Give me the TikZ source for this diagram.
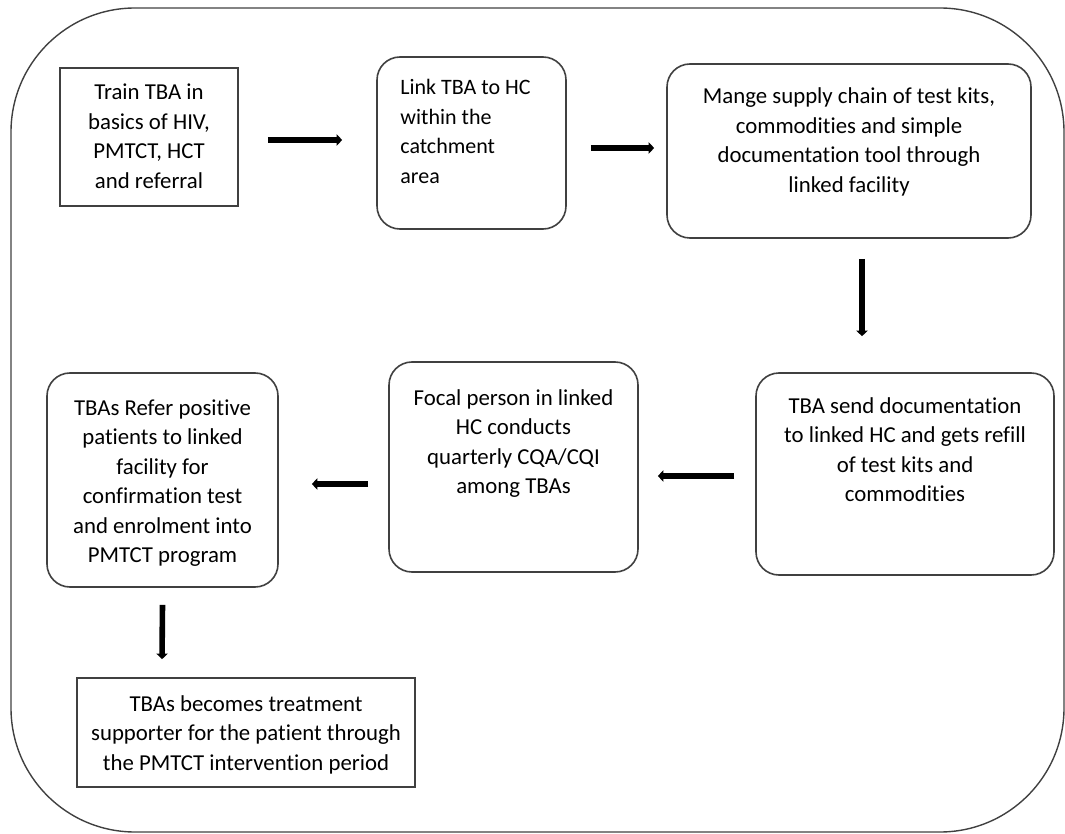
\documentclass[tikz,border=0pt]{standalone}
\usepackage{fontspec}
\setmainfont{Carlito}[Ligatures=NoCommon]
\usepackage{tikz}
\usetikzlibrary{arrows.meta, calc}
\definecolor{FrameGrey}{HTML}{404040}
\tikzset{
  % Box styles
  framebox/.style={draw=FrameGrey, line width=0.7pt, rounded corners=62pt},
  squarebox/.style={rectangle, draw=FrameGrey, line width=0.8pt, inner sep=0pt},
  roundbox/.style={rectangle, rounded corners=11.5pt, draw=FrameGrey, line width=0.8pt, inner sep=0pt},
  % Text styles (placed on the baseline of the last line)
  boxtext/.style={anchor=base, align=center, inner sep=0pt, font=\fontsize{11.4}{14.75}\selectfont},
  % Arrow styles
  arrow/.style={-{Triangle[length=2.8pt, width=5.6pt]}, line width=2.8pt, black}
}

\begin{document}
\begin{tikzpicture}[x=0.5pt, y=-0.5pt]
  \useasboundingbox (0,0) rectangle (1065,834);

  % Outer frame
  \draw[framebox] (11,8) rectangle (1064,832);

  % Boxes
  \node[squarebox, minimum width=89pt, minimum height=69pt] (train) at (149,137) {};
  \node[roundbox, minimum width=94.5pt, minimum height=86pt] (link) at (471.5,143) {};
  \node[roundbox, minimum width=182pt, minimum height=87pt] (supply) at (849,151) {};
  \node[roundbox, minimum width=149pt, minimum height=101pt] (refill) at (905,474) {};
  \node[roundbox, minimum width=124.5pt, minimum height=105pt] (focal) at (513.5,467) {};
  \node[roundbox, minimum width=115.5pt, minimum height=107pt] (refer) at (162.5,480) {};
  \node[squarebox, minimum width=169pt, minimum height=54.5pt] (support) at (246,732.5) {};

  % Box texts
  \node[boxtext] (traintxt) at (149,188.5) {Train TBA in\\basics of HIV,\\PMTCT, HCT\\and referral};
  \node[boxtext, anchor=base west, align=left, font=\fontsize{11}{14.75}\selectfont] (linktxt) at (400,183.5) {Link TBA to HC\\within the\\catchment\\area};
  \node[boxtext] (supplytxt) at (849,192.5) {Mange supply chain of test kits,\\commodities and simple\\documentation tool through\\linked facility};
  \node[boxtext] (refilltxt) at (905,501.5) {TBA send documentation\\to linked HC and gets refill\\of test kits and\\commodities};
  \node[boxtext] (focaltxt) at (513.5,493.5) {Focal person in linked\\HC conducts\\quarterly CQA/CQI\\among TBAs};
  \node[boxtext] (refertxt) at (162.5,562.5) {TBAs Refer positive\\patients to linked\\facility for\\confirmation test\\and enrolment into\\PMTCT program};
  \node[boxtext] (supporttxt) at (246,770) {TBAs becomes treatment\\supporter for the patient through\\the PMTCT intervention period};

  % Arrows
  \draw[arrow] ($(train.east)+(29,3)$) -- ($(link.west)+(-34,-3)$);
  \draw[arrow] ($(link.east)+(24,5)$) -- ($(supply.west)+(-12,-3)$);
  \draw[arrow] ($(supply.south)+(13,20)$) -- ($(refill.north)+(-43,-36)$);
  \draw[arrow] ($(refill.west)+(-21,2)$) -- ($(focal.east)+(19,9)$);
  \draw[arrow] ($(focal.west)+(-20,17)$) -- ($(refer.east)+(33,4)$);
  \draw[arrow] ($(refer.south)+(0,17)$) -- ($(support.north)+(-84,-18)$);
\end{tikzpicture}
\end{document}
